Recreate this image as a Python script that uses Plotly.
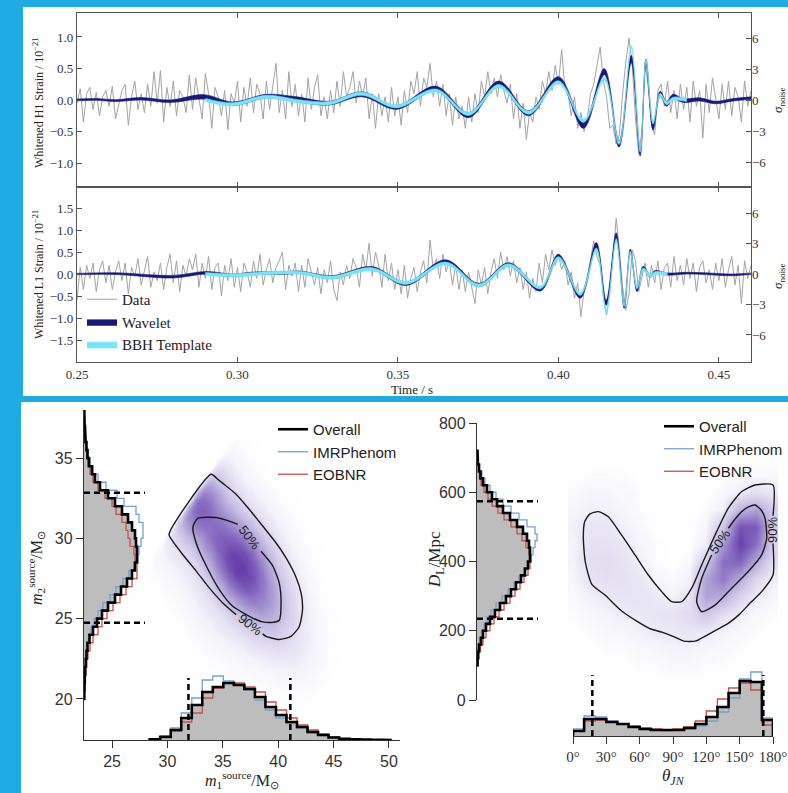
import numpy as np
import plotly.graph_objects as go

W, H = 788, 793
def fx(px): return px / W
def fy(py): return 1 - py / H

# ---------------- whitened strain data ----------------
t0, dt = 0.250, 0.001
h1_data = [
    -0.05, 0.18, -0.35, 0.10, 0.20, -0.15, 0.12, -0.25, 0.05, 0.15,
    -0.10, 0.22, -0.30, -0.05, 0.15, 0.25, -0.40, 0.05, 0.30, -0.15,
    0.10, -0.20, 0.25, -0.10, 0.45, -0.05, 0.47, -0.35, 0.20, -0.10,
    0.30, -0.25, 0.15, 0.05, -0.20, 0.40, -0.15, 0.35, 0.05, -0.30,
    0.42, 0.10, -0.45, 0.20, 0.05, -0.25, 0.15, -0.47, 0.10, -0.05,
    0.30, -0.35, 0.20, -0.10, 0.35, -0.20, 0.25, 0.10, -0.30, 0.30,
    -0.15, 0.20, 0.58, -0.20, 0.15, -0.30, 0.45, -0.10, 0.25, -0.25,
    0.10, -0.35, 0.35, -0.15, 0.20, 0.40, -0.25, 0.05, -0.30, 0.15,
    -0.20, 0.30, -0.10, 0.45, 0.05, 0.20, 0.45, -0.05, 0.30, 0.05,
    0.35, -0.30, 0.10, -0.45, 0.10, -0.25, 0.05, -0.35, 0.20, -0.25,
    0.05, -0.40, 0.15, -0.20, 0.30, 0.10, 0.45, -0.10, 0.35, 0.20,
    0.58, 0.05, 0.30, -0.10, 0.25, -0.25, 0.10, -0.40, 0.05, -0.30,
    -0.10, -0.45, 0.05, -0.35, 0.10, -0.20, 0.30, 0.05, 0.45, 0.10,
    0.35, 0.05, 0.40, 0.15, -0.05, 0.25, -0.30, 0.10, -0.45, -0.05,
    -0.63, -0.20, -0.35, 0.05, -0.15, 0.30, 0.10, 0.45, 0.15, 0.55,
    0.25, 0.80, 0.20, 0.10, -0.25, 0.05, -0.45, -0.20, -0.50, -0.30,
    0.10, 0.25, 0.55, 0.84, 0.30, 0.05, -0.45, -0.40, -0.70, -0.55,
    0.10, 0.60, 0.98, 0.55, -0.30, -0.85, -0.50, 0.60, 0.20, -0.40,
    -0.55, 0.15, 0.25, -0.10, 0.30, -0.20, 0.15, -0.30, 0.25, -0.15,
    0.20, -0.35, 0.30, -0.10, 0.15, -0.60, 0.25, -0.20, 0.35, 0.05,
    -0.30, 0.25, -0.15, 0.30, -0.25, 0.20, 0.05, -0.35, 0.30, -0.10,
    0.15]
l1_data = [
    -0.60, 0.15, -0.35, 0.20, -0.10, 0.25, -0.40, 0.10, 0.30, -0.20,
    0.20, -0.35, 0.05, 0.30, -0.15, 0.25, -0.45, 0.15, -0.05, 0.35,
    -0.25, 0.10, 0.40, -0.30, 0.05, -0.15, 0.25, -0.35, 0.15, 0.45,
    -0.20, 0.30, -0.40, 0.20, -0.05, 0.35, 0.10, 0.45, -0.30, 0.25,
    -0.10, 0.40, -0.35, 0.15, 0.25, -0.50, 0.20, -0.15, 0.35, -0.30,
    0.15, -0.40, 0.25, 0.05, -0.30, 0.30, -0.10, 0.45, -0.25, 0.10,
    0.35, -0.20, 0.15, 0.30, 0.50, -0.35, 0.20, -0.05, 0.25, -0.40,
    0.20, -0.30, 0.35, 0.05, -0.25, 0.15, -0.45, 0.10, -0.20, 0.30,
    -0.35, -0.60, 0.05, -0.25, 0.20, -0.10, 0.35, 0.15, -0.30, 0.45,
    0.10, 0.70, -0.05, 0.50, 0.20, -0.30, 0.45, -0.15, 0.25, -0.35,
    0.10, -0.45, 0.20, -0.55, -0.10, 0.15, -0.40, 0.05, 0.30, -0.20,
    0.77, 0.10, 0.35, -0.10, 0.45, 0.05, 0.30, -0.25, 0.20, -0.35,
    0.10, -0.40, 0.05, -0.30, -0.67, 0.10, -0.25, 0.15, -0.45, 0.05,
    0.35, -0.10, 0.50, 0.10, 0.40, -0.05, 0.30, -0.20, 0.15, -0.35,
    0.05, -0.55, -0.10, -0.40, 0.25, -0.20, 0.45, 0.10, 0.55, 0.20,
    0.45, 0.10, 0.30, -0.25, 0.05, -0.55, -0.20, -0.97, -0.35, -0.10,
    0.30, 0.75, 0.40, 0.20, -0.50, -0.93, -0.45, 0.40, 1.27, 0.55,
    -0.30, -0.82, -0.45, 0.55, 0.30, -0.40, -0.10, 0.25, -0.30, 0.20,
    -0.20, 0.30, -0.35, 0.15, 0.25, -0.30, 0.40, -0.15, 0.20, -0.25,
    0.35, -0.10, 0.25, -0.40, 0.15, 0.30, -0.20, 0.10, -0.35, 0.25,
    -0.15, 0.35, -0.30, 0.10, 0.40, -0.25, 0.20, -0.67, 0.30, -0.10,
    0.20]

# wavelet reconstruction (90% band: centre and half width) and BBH template
h1_wav_t = [0.250, 0.256, 0.262, 0.270, 0.279, 0.2895, 0.2985, 0.309, 0.3185, 0.3286, 0.3388,
            0.3495, 0.3618, 0.3720, 0.3814, 0.3907, 0.4000, 0.4078, 0.4143, 0.4189, 0.4227,
            0.4255, 0.4273, 0.4295, 0.4317, 0.4337, 0.4357, 0.4390, 0.4440, 0.4490, 0.4540, 0.4600]
h1_wav_mid = [0.00, 0.01, -0.01, 0.02, -0.02, 0.05, -0.06, 0.06, 0.01, -0.05, 0.09,
              -0.12, 0.18, -0.24, 0.26, -0.21, 0.33, -0.40, 0.45, -0.70, 0.65,
              -0.84, 0.60, -0.43, 0.10, -0.06, 0.05, -0.01, 0.01, -0.04, 0.00, 0.03]
h1_wav_hw = [0.015, 0.015, 0.015, 0.02, 0.02, 0.035, 0.03, 0.03, 0.04, 0.03, 0.04,
             0.03, 0.04, 0.04, 0.04, 0.04, 0.04, 0.05, 0.05, 0.05, 0.06,
             0.05, 0.05, 0.05, 0.04, 0.04, 0.04, 0.03, 0.025, 0.02, 0.02, 0.02]
h1_tpl_t = [0.2900, 0.2985, 0.3090, 0.3190, 0.3286, 0.3388, 0.3495, 0.3618, 0.3720, 0.3814,
            0.3907, 0.4000, 0.4078, 0.4143, 0.4189, 0.4227, 0.4255, 0.4273, 0.4295, 0.4317,
            0.4337, 0.4357, 0.4400]
h1_tpl_mid = [0.00, -0.07, 0.05, -0.02, -0.05, 0.10, -0.10, 0.15, -0.22, 0.22,
              -0.20, 0.28, -0.33, 0.33, -0.68, 0.84, -0.80, 0.62, -0.35, 0.08,
              -0.05, 0.02, 0.00]
h1_tpl_hw = 0.025

l1_wav_t = [0.250, 0.262, 0.2798, 0.2904, 0.2984, 0.3047, 0.3140, 0.3193, 0.3295, 0.3419,
            0.3525, 0.3649, 0.3752, 0.3845, 0.3944, 0.4000, 0.4068, 0.4118, 0.4149, 0.4180,
            0.4205, 0.4224, 0.4245, 0.4264, 0.4286, 0.4301, 0.4340, 0.4400, 0.4480, 0.4540, 0.4600]
l1_wav_mid = [0.00, 0.01, -0.06, 0.03, -0.03, 0.02, 0.02, 0.04, -0.07, 0.13,
              -0.22, 0.28, -0.25, 0.22, -0.34, 0.40, -0.50, 0.66, -0.65, 0.88,
              -0.72, 0.52, -0.35, 0.14, -0.04, 0.05, 0.00, 0.02, 0.00, -0.02, 0.01]
l1_wav_hw = [0.015, 0.02, 0.03, 0.03, 0.03, 0.025, 0.03, 0.03, 0.035, 0.04,
             0.04, 0.045, 0.04, 0.04, 0.045, 0.05, 0.05, 0.06, 0.06, 0.06,
             0.06, 0.05, 0.05, 0.04, 0.03, 0.03, 0.025, 0.02, 0.02, 0.02, 0.015]
l1_tpl_t = [0.2900, 0.2984, 0.3090, 0.3193, 0.3295, 0.3419, 0.3525, 0.3649, 0.3752, 0.3845,
            0.3944, 0.4000, 0.4068, 0.4118, 0.4149, 0.4180, 0.4205, 0.4224, 0.4245, 0.4264,
            0.4286, 0.4301, 0.4340]
l1_tpl_mid = [0.00, -0.03, 0.02, 0.03, -0.08, 0.11, -0.20, 0.24, -0.26, 0.20,
              -0.30, 0.36, -0.45, 0.55, -0.85, 0.75, -0.70, 0.48, -0.30, 0.10,
              -0.03, 0.02, 0.00]
l1_tpl_hw = 0.035

time_ticks = [0.25, 0.30, 0.35, 0.40, 0.45]
h1_ticks = [-1.0, -0.5, 0.0, 0.5, 1.0]
l1_ticks = [-1.5, -1.0, -0.5, 0.0, 0.5, 1.0, 1.5]
sigma_ticks = [-6, -3, 0, 3, 6]
theta_ticks = [0, 30, 60, 90, 120, 150, 180]
theta_ticklabels = ["0°", "30°", "60°", "90°", "120°", "150°", "180°"]

# ---------------- posterior histograms (relative counts) ----------------
m2_bin_lo, m2_bin_w = 20.0, 0.5
m2_overall = [0.3, 0.5, 0.8, 1.2, 1.8, 2.5, 3.5, 5.5, 9, 13, 18, 24, 31, 37, 43, 48, 51, 53,
              53, 52, 51, 48, 44, 38, 31, 24, 16, 11, 8, 5, 3.5, 2.5, 1.5, 1, 0.6, 0.3]
m2_imr = [0.2, 0.4, 0.6, 1, 1.5, 2, 3, 4.5, 7, 10, 14, 19, 26, 32, 39, 45, 50, 54,
          55, 57, 59, 59, 55, 52, 40, 33, 22, 14, 9, 6, 4, 2.5, 1.8, 1.2, 0.7, 0.3]
m2_eob = [0.4, 0.7, 1.1, 1.8, 2.8, 4, 6, 9, 14, 18, 23, 29, 36, 42, 48, 53, 53, 51,
          50, 46, 44, 42, 38, 32, 28, 21, 14, 9, 6, 4, 3, 2, 1.3, 0.8, 0.5, 0.3]
m2_interval = [24.75, 32.85]

m1_bin_lo, m1_bin_w = 28.4, 0.95
m1_overall = [0.8, 3, 10, 22, 35, 48, 53, 57, 55, 51, 43, 33, 25, 18, 13, 8, 5, 2.5, 1.3, 0.8, 0.5, 0.3, 0.2]
m1_imr = [0.8, 3.5, 12, 27, 42, 60, 64, 59, 55, 50, 40, 30, 22, 17, 12, 7, 4.5, 2.3, 1.2, 0.7, 0.4, 0.3, 0.2]
m1_eob = [1.2, 4, 9, 18, 27, 42, 52, 57, 57, 53, 48, 38, 30, 22, 15, 10, 6, 3, 1.6, 1, 0.6, 0.4, 0.2]
m1_interval = [31.9, 41.1]

dl_bin_lo, dl_bin_w = 100.0, 20.0
dl_overall = [0.5, 1, 2, 4, 6, 9, 13, 18, 23, 29, 34, 39, 44, 48, 51, 53, 53, 52, 50, 46,
              40, 33, 26, 20, 15, 10, 6, 3.5, 2, 1, 0.5]
dl_imr = [0.3, 0.6, 1.2, 2.5, 4.5, 7, 10, 14, 19, 25, 31, 37, 42, 47, 51, 54, 56, 58, 60, 58,
          50, 42, 34, 26, 19, 13, 8, 5, 2.5, 1.2, 0.5]
dl_eob = [1, 2, 3.5, 6, 9, 13, 17, 22, 27, 33, 38, 43, 47, 51, 53, 54, 52, 49, 45, 40,
          34, 27, 21, 15, 11, 7, 4, 2.5, 1.5, 0.8, 0.4]
dl_interval = [235, 574]

th_bin_lo, th_bin_w = 0.0, 10.0
th_overall = [5, 17, 17, 14, 12, 9, 7, 6, 6, 6, 8, 12, 19, 29, 43, 55, 54, 16]
th_imr = [7, 20, 19, 15, 12, 9, 7, 6, 5, 6, 7, 10, 15, 24, 38, 57, 64, 18]
th_eob = [5, 15, 16, 14, 12, 10, 8, 7, 6, 7, 9, 15, 25, 37, 48, 53, 46, 11]
th_interval = [17.4, 171.3]

# ---------------- 2-D posterior densities ----------------
# m1-m2: density profile along (m1 - m2) and across (m1 + m2)
u_knots = [-0.4, 0.0, 0.5, 1.5, 3.0, 5.0, 7.0, 8.5, 10.0, 12.0, 14.0, 16.0, 18.0, 20.0, 22.0, 24.0]
u_dens = [0.0, 0.45, 0.72, 0.78, 0.70, 0.78, 0.95, 1.00, 0.90, 0.65, 0.42, 0.22, 0.10, 0.045, 0.015, 0.0]
v_knots = [55, 57, 58.5, 60, 61, 62, 63, 64, 65, 66, 67, 68, 69, 70, 71, 72.5, 75]
v_dens = [0.0, 0.02, 0.05, 0.12, 0.25, 0.45, 0.72, 0.95, 1.00, 0.88, 0.65, 0.40, 0.22, 0.10, 0.045, 0.012, 0.0]

# theta_JN - D_L density grid (rows: D_L, cols: theta_JN)
th_grid = [0, 15, 30, 45, 60, 75, 90, 105, 120, 135, 150, 165, 180]
dl_grid = [50, 100, 150, 200, 250, 300, 350, 400, 450, 500, 550, 600, 650, 700, 750]
thdl_density = [
    [0, 0, 0, 0, 0, 0, 0, 0, 0, 0, 0, 0, 0],
    [0, 0, 0, 0, 1, 1, 2, 2, 1, 1, 0, 0, 0],
    [0, 0, 1, 1, 2, 3, 4, 4, 3, 2, 1, 0, 0],
    [0, 1, 2, 3, 5, 7, 8, 9, 7, 4, 2, 1, 0],
    [1, 2, 4, 6, 8, 9, 10, 14, 25, 12, 5, 2, 1],
    [2, 5, 8, 10, 10, 7, 4, 10, 45, 40, 18, 7, 3],
    [3, 10, 12, 11, 8, 3, 1, 5, 45, 65, 40, 15, 6],
    [4, 12, 13, 10, 5, 1, 0, 2, 22, 70, 75, 40, 12],
    [4, 11, 11, 8, 3, 1, 0, 0, 6, 50, 95, 70, 18],
    [5, 9, 9, 5, 2, 0, 0, 0, 3, 25, 85, 80, 25],
    [3, 5, 5, 3, 1, 0, 0, 0, 1, 5, 35, 45, 20],
    [2, 3, 3, 2, 1, 0, 0, 0, 0, 2, 6, 12, 8],
    [0, 1, 1, 1, 0, 0, 0, 0, 0, 0, 1, 2, 2],
    [0, 0, 0, 0, 0, 0, 0, 0, 0, 0, 0, 0, 0],
    [0, 0, 0, 0, 0, 0, 0, 0, 0, 0, 0, 0, 0]]

# credible contours; gaps left where the labels sit
m_c90_m1 = [38.6, 38.9, 40.1, 41.16, 41.9, 42.2, 42.07, 41.6, 40.7, 39.8, 38.6, 37.4, 36.2, 35.3,
            34.54, 33.95, 30.15, 30.48, 31.38, 32.6, 33.8, 35.0, 36.2]
m_c90_m2 = [24.05, 23.9, 23.7, 23.9, 24.5, 25.56, 26.6, 27.6, 28.8, 29.73, 30.77, 31.8, 32.75, 33.27,
            33.69, 34.0, 30.25, 29.83, 29.0, 27.96, 26.9, 25.98, 25.25]
m_c50_m1 = [38.45, 39.5, 40.1, 40.26, 40.1, 39.5, 38.6, 37.7, 35.9, 34.7, 33.5, 32.6, 32.3, 32.74, 34.4, 35.9, 36.35]
m_c50_m2 = [29.2, 28.3, 27.2, 26.0, 24.9, 24.77, 24.8, 25.04, 25.77, 26.8, 28.3, 29.7, 30.7, 31.25, 31.3, 31.0, 30.875]
r_c90_th = [180, 180, 169.8, 160, 150, 140, 130, 120, 110, 100, 90, 80, 70, 58.8, 43.8, 28.8, 16.8, 11, 9.3,
            10.5, 15, 22.8, 31.8, 43.8, 55.8, 67.8, 79.8, 88.8, 97.8, 106.8, 115.8, 127.8, 139.8, 151.8,
            163.8, 180, 180]
r_c90_dl = [452, 361, 313, 282, 248, 222, 204, 186, 170, 170, 184, 196, 205, 225, 257, 303, 335, 400, 470,
            515, 537, 544, 529, 476, 419, 361, 313, 284, 284, 323, 390, 476, 554, 602,
            621, 621, 532]
r_c50_th = [139.8, 145.8, 151.8, 158, 163.8, 169, 172.8, 174.3, 169.8, 157.8, 142.8, 127.8, 115.8, 111.3, 115.8, 124.8]
r_c50_dl = [496, 522, 544, 558, 563, 550, 525, 467, 419, 371, 323, 274, 255, 284, 351, 419]

# ---------------- styles ----------------
BG = "#1eaae2"
GRAY_DATA = "#a3a3a3"
NAVY = "#17177c"
CYAN = "#74e6f6"
IMR_C = "#7b9fcf"
EOB_C = "#c2514d"
FILL_GRAY = "#bdbdbd"
SERIF = "Liberation Serif"
SANS = "Liberation Sans"
DASH_LEN = 61

fig = go.Figure()

# ---- top: whitened strain ----
th1 = t0 + dt * np.arange(len(h1_data))
tl1 = t0 + dt * np.arange(len(l1_data))

def add_band(t, mid, hw, color, xa, ya, name=None, show=False, rank=None):
    mid = np.asarray(mid, float)
    hw = np.broadcast_to(np.asarray(hw, float), mid.shape)
    fig.add_trace(go.Scatter(x=t, y=mid + hw, mode="lines", xaxis=xa, yaxis=ya,
                             line=dict(color=color, width=0.6, shape="spline", smoothing=1.0),
                             showlegend=False, hoverinfo="skip"))
    fig.add_trace(go.Scatter(x=t, y=mid - hw, mode="lines", xaxis=xa, yaxis=ya,
                             line=dict(color=color, width=0.6, shape="spline", smoothing=1.0),
                             fill="tonexty", fillcolor=color, name=name, legend="legend",
                             legendrank=rank if rank else 1000,
                             showlegend=show, hoverinfo="skip"))

fig.add_trace(go.Scatter(x=th1, y=h1_data, mode="lines", line=dict(color=GRAY_DATA, width=1.0),
                         name="Data", legend="legend", legendrank=1, xaxis="x", yaxis="y", hoverinfo="skip"))
add_band(h1_wav_t, h1_wav_mid, h1_wav_hw, NAVY, "x", "y", "Wavelet", True, 2)
add_band(h1_tpl_t, h1_tpl_mid, h1_tpl_hw, CYAN, "x", "y", "BBH Template", True, 3)

fig.add_trace(go.Scatter(x=tl1, y=l1_data, mode="lines", line=dict(color=GRAY_DATA, width=1.0),
                         showlegend=False, xaxis="x2", yaxis="y2", hoverinfo="skip"))
add_band(l1_wav_t, l1_wav_mid, l1_wav_hw, NAVY, "x2", "y2")
add_band(l1_tpl_t, l1_tpl_mid, l1_tpl_hw, CYAN, "x2", "y2")

# invisible carriers for the sigma_noise axes
fig.add_trace(go.Scatter(x=[None], y=[None], xaxis="x", yaxis="y3", showlegend=False, hoverinfo="skip"))
fig.add_trace(go.Scatter(x=[None], y=[None], xaxis="x2", yaxis="y4", showlegend=False, hoverinfo="skip"))

# ---- histogram helpers ----
def steps(lo, w, vals):
    a = [lo]; b = [0]
    for i, v in enumerate(vals):
        a += [lo + i * w, lo + (i + 1) * w]
        b += [v, v]
    a.append(lo + len(vals) * w); b.append(0)
    return a, b

colorscale = [[0.0, "rgba(250,249,253,0)"], [0.015, "rgba(247,246,252,0.6)"],
              [0.06, "rgb(238,236,247)"], [0.15, "rgb(222,217,239)"], [0.3, "rgb(199,191,227)"],
              [0.5, "rgb(168,152,210)"], [0.75, "rgb(131,101,190)"], [1.0, "rgb(98,58,168)"]]

# ---- bottom left: m1 / m2 ----
m1_axis = np.arange(26.0, 51.01, 0.2)
m2_axis = np.arange(17.0, 38.01, 0.2)
M1, M2 = np.meshgrid(m1_axis, m2_axis)
Zm = np.interp(M1 - M2, u_knots, u_dens) * np.interp(M1 + M2, v_knots, v_dens) * 100
fig.add_trace(go.Heatmap(x=m1_axis, y=m2_axis, z=Zm, colorscale=colorscale, zmin=0, zmax=100,
                         showscale=False, zsmooth="best", xaxis="x3", yaxis="y5", hoverinfo="skip"))
fig.add_trace(go.Scatter(x=m_c90_m1, y=m_c90_m2, mode="lines", xaxis="x3", yaxis="y5",
                         line=dict(color="#1a1a1a", width=1.4, shape="spline", smoothing=0.6),
                         showlegend=False, hoverinfo="skip"))
fig.add_trace(go.Scatter(x=m_c50_m1, y=m_c50_m2, mode="lines", xaxis="x3", yaxis="y5",
                         line=dict(color="#1a1a1a", width=1.4, shape="spline", smoothing=0.6),
                         showlegend=False, hoverinfo="skip"))

# m2 marginal (horizontal) on x4/y5
ys, xs = steps(m2_bin_lo, m2_bin_w, m2_overall)
fig.add_trace(go.Scatter(x=xs, y=ys, mode="lines", fill="toself", fillcolor=FILL_GRAY,
                         line=dict(width=0), xaxis="x4", yaxis="y5", showlegend=False, hoverinfo="skip"))
for vals, col, wd, nm, rk in [(m2_imr, IMR_C, 1.3, "IMRPhenom", 2), (m2_eob, EOB_C, 1.3, "EOBNR", 3),
                              (m2_overall, "#000000", 2.6, "Overall", 1)]:
    ys, xs = steps(m2_bin_lo, m2_bin_w, vals)
    fig.add_trace(go.Scatter(x=xs, y=ys, mode="lines", line=dict(color=col, width=wd),
                             xaxis="x4", yaxis="y5", name=nm, legend="legend2", legendrank=rk,
                             showlegend=True, hoverinfo="skip"))
for q in m2_interval:
    fig.add_trace(go.Scatter(x=[0, DASH_LEN], y=[q, q], mode="lines", xaxis="x4", yaxis="y5",
                             line=dict(color="black", width=2.5, dash="6px,4px"),
                             showlegend=False, hoverinfo="skip"))

# m1 marginal on x3/y6
xs, ys = steps(m1_bin_lo, m1_bin_w, m1_overall)
fig.add_trace(go.Scatter(x=xs, y=ys, mode="lines", fill="toself", fillcolor=FILL_GRAY,
                         line=dict(width=0), xaxis="x3", yaxis="y6", showlegend=False, hoverinfo="skip"))
for vals, col, wd in [(m1_imr, IMR_C, 1.3), (m1_eob, EOB_C, 1.3), (m1_overall, "#000000", 2.6)]:
    xs, ys = steps(m1_bin_lo, m1_bin_w, vals)
    fig.add_trace(go.Scatter(x=xs, y=ys, mode="lines", line=dict(color=col, width=wd),
                             xaxis="x3", yaxis="y6", showlegend=False, hoverinfo="skip"))
for q in m1_interval:
    fig.add_trace(go.Scatter(x=[q, q], y=[0, DASH_LEN + 1], mode="lines", xaxis="x3", yaxis="y6",
                             line=dict(color="black", width=2.5, dash="6px,4px"),
                             showlegend=False, hoverinfo="skip"))

# ---- bottom right: theta_JN / D_L ----
fig.add_trace(go.Heatmap(x=th_grid, y=dl_grid, z=thdl_density, colorscale=colorscale, zmin=0, zmax=100,
                         showscale=False, zsmooth="best", xaxis="x7", yaxis="y7", hoverinfo="skip"))
fig.add_trace(go.Scatter(x=r_c90_th, y=r_c90_dl, mode="lines", xaxis="x7", yaxis="y7",
                         line=dict(color="#1a1a1a", width=1.4, shape="spline", smoothing=0.6),
                         showlegend=False, hoverinfo="skip"))
fig.add_trace(go.Scatter(x=r_c50_th, y=r_c50_dl, mode="lines", xaxis="x7", yaxis="y7",
                         line=dict(color="#1a1a1a", width=1.4, shape="spline", smoothing=0.6),
                         showlegend=False, hoverinfo="skip"))

ys, xs = steps(dl_bin_lo, dl_bin_w, dl_overall)
fig.add_trace(go.Scatter(x=xs, y=ys, mode="lines", fill="toself", fillcolor=FILL_GRAY,
                         line=dict(width=0), xaxis="x6", yaxis="y7", showlegend=False, hoverinfo="skip"))
for vals, col, wd, nm, rk in [(dl_imr, IMR_C, 1.3, "IMRPhenom", 2), (dl_eob, EOB_C, 1.3, "EOBNR", 3),
                              (dl_overall, "#000000", 2.6, "Overall", 1)]:
    ys, xs = steps(dl_bin_lo, dl_bin_w, vals)
    fig.add_trace(go.Scatter(x=xs, y=ys, mode="lines", line=dict(color=col, width=wd),
                             xaxis="x6", yaxis="y7", name=nm, legend="legend3", legendrank=rk,
                             showlegend=True, hoverinfo="skip"))
for q in dl_interval:
    fig.add_trace(go.Scatter(x=[0, DASH_LEN], y=[q, q], mode="lines", xaxis="x6", yaxis="y7",
                             line=dict(color="black", width=2.5, dash="6px,4px"),
                             showlegend=False, hoverinfo="skip"))

xs, ys = steps(th_bin_lo, th_bin_w, th_overall)
fig.add_trace(go.Scatter(x=xs, y=ys, mode="lines", fill="toself", fillcolor=FILL_GRAY,
                         line=dict(width=0), xaxis="x5", yaxis="y8", showlegend=False, hoverinfo="skip"))
for vals, col, wd in [(th_imr, IMR_C, 1.3), (th_eob, EOB_C, 1.3), (th_overall, "#000000", 2.6)]:
    xs, ys = steps(th_bin_lo, th_bin_w, vals)
    fig.add_trace(go.Scatter(x=xs, y=ys, mode="lines", line=dict(color=col, width=wd),
                             xaxis="x5", yaxis="y8", showlegend=False, hoverinfo="skip"))
for q in th_interval:
    fig.add_trace(go.Scatter(x=[q, q], y=[0, DASH_LEN], mode="lines", xaxis="x5", yaxis="y8",
                             line=dict(color="black", width=2.5, dash="6px,4px"),
                             showlegend=False, hoverinfo="skip"))

# ---------------- layout ----------------
top_tick = dict(family=SERIF, size=13, color="#333")
frame = dict(showline=True, linecolor="#555", linewidth=1.3, showgrid=False, zeroline=False,
             ticks="inside", ticklen=5, tickcolor="#555", tickfont=top_tick, automargin=False)
sans_tick = dict(family=SANS, size=16, color="#333")
corner = dict(showline=True, linecolor="#333", linewidth=1.3, showgrid=False, zeroline=False,
              ticks="outside", ticklen=7, tickcolor="#333", tickfont=sans_tick, automargin=False)
hidden = dict(visible=False, showgrid=False, zeroline=False, automargin=False)

xdom_top = [fx(77), fx(751)]
layout = dict(
    width=W, height=H, margin=dict(l=0, r=0, t=0, b=0, autoexpand=False),
    paper_bgcolor=BG, plot_bgcolor="rgba(0,0,0,0)",
    xaxis=dict(frame, domain=xdom_top, range=[0.25, 0.46], anchor="y", mirror="ticks",
               tickvals=time_ticks, showticklabels=False),
    xaxis2=dict(frame, domain=xdom_top, range=[0.25, 0.46], anchor="y2", mirror="ticks",
                tickvals=time_ticks, tickformat=".2f"),
    yaxis=dict(frame, domain=[fy(187), fy(13)], range=[-1.38, 1.38], anchor="x", mirror=True,
               tickvals=h1_ticks, tickformat=".1f"),
    yaxis2=dict(frame, domain=[fy(362), fy(187)], range=[-2.0, 1.98], anchor="x2", mirror=True,
                tickvals=l1_ticks, tickformat=".1f"),
    yaxis3=dict(frame, showline=False, overlaying="y", side="right", anchor="x",
                range=[-8.42, 8.42], tickvals=sigma_ticks),
    yaxis4=dict(frame, showline=False, overlaying="y2", side="right", anchor="x2",
                range=[-8.66, 8.56], tickvals=sigma_ticks),
    xaxis3=dict(corner, domain=[fx(84), fx(400)], range=[22.47, 51], anchor="y5",
                tickvals=[25, 30, 35, 40, 45, 50]),
    yaxis5=dict(corner, domain=[fy(740), fy(410)], range=[17.44, 38], anchor="x3",
                tickvals=[20, 25, 30, 35]),
    xaxis4=dict(hidden, overlaying="x3", anchor="y5", range=[0, 316]),
    yaxis6=dict(hidden, overlaying="y5", anchor="x3", range=[0, 330]),
    xaxis5=dict(corner, domain=[fx(573), fx(773)], range=[0, 180], anchor="y8",
                tickvals=theta_ticks, ticktext=theta_ticklabels,
                tickfont=dict(family=SERIF, size=15, color="#333")),
    yaxis8=dict(hidden, domain=[fy(736), fy(600)], anchor="x5", range=[0, 136]),
    yaxis7=dict(corner, domain=[fy(700), fy(423)], range=[0, 800], anchor="x6",
                tickvals=[0, 200, 400, 600, 800]),
    xaxis6=dict(hidden, domain=[fx(477), fx(773)], anchor="y7", range=[0, 296]),
    xaxis7=dict(hidden, domain=[fx(568), fx(778)], anchor="y7", range=[-4.5, 184.5]),
    legend=dict(x=fx(82), y=fy(283), xanchor="left", yanchor="top", bgcolor="rgba(0,0,0,0)",
                font=dict(family=SERIF, size=15, color="#222"), tracegroupgap=0, traceorder="normal"),
    legend2=dict(x=fx(273), y=fy(413), xanchor="left", yanchor="top", bgcolor="rgba(0,0,0,0)",
                 font=dict(family=SANS, size=15, color="#222"), tracegroupgap=0, traceorder="normal"),
    legend3=dict(x=1.0, y=fy(410), xanchor="right", yanchor="top", bgcolor="rgba(0,0,0,0)",
                 font=dict(family=SANS, size=15, color="#222"), tracegroupgap=0, traceorder="normal"),
    shapes=[
        dict(type="rect", xref="paper", yref="paper", x0=fx(23), x1=1.0, y0=fy(396), y1=fy(7),
             fillcolor="white", line=dict(width=0), layer="below"),
        dict(type="rect", xref="paper", yref="paper", x0=fx(21), x1=1.0, y0=0.0, y1=fy(402),
             fillcolor="white", line=dict(width=0), layer="below"),
    ],
)

def lab(text, px, py, size, family=SERIF, angle=0, color="#222"):
    return dict(text=text, x=fx(px), y=fy(py), xref="paper", yref="paper", showarrow=False,
                textangle=angle, xanchor="center", yanchor="middle",
                font=dict(family=family, size=size, color=color))

def clab(text, x, y, xr, yr, angle):
    return dict(text=text, x=x, y=y, xref=xr, yref=yr, showarrow=False, textangle=angle,
                xanchor="center", yanchor="middle", font=dict(family=SANS, size=13, color="#222"))

layout["annotations"] = [
    lab("Whitened H1 Strain / 10<sup>−21</sup>", 38, 103, 12, angle=-90),
    lab("Whitened L1 Strain / 10<sup>−21</sup>", 38, 275, 12, angle=-90),
    lab("<i>σ</i><sub>noise</sub>", 778, 100, 13, angle=-90),
    lab("<i>σ</i><sub>noise</sub>", 778, 276, 13, angle=-90),
    lab("Time / s", 412, 389, 13),
    lab("<i>m</i><sub>2</sub><sup>source</sup>/M<sub>⊙</sub>", 36, 568, 16, angle=-90),
    lab("<i>m</i><sub>1</sub><sup>source</sup>/M<sub>⊙</sub>", 242, 780, 16),
    lab("<i>D</i><sub>L</sub>/Mpc", 436, 560, 17, angle=-90),
    lab("<i>θ</i><sub><i>JN</i></sub>", 673, 777, 17),
    clab("50%", 37.4, 30.04, "x3", "y5", 53),
    clab("90%", 37.45, 24.62, "x3", "y5", 38),
    clab("50%", 132.3, 457, "x7", "y7", -55),
    clab("90%", 180, 491, "x7", "y7", -90),
]

fig.update_layout(**layout)
fig.write_html("out.html")
